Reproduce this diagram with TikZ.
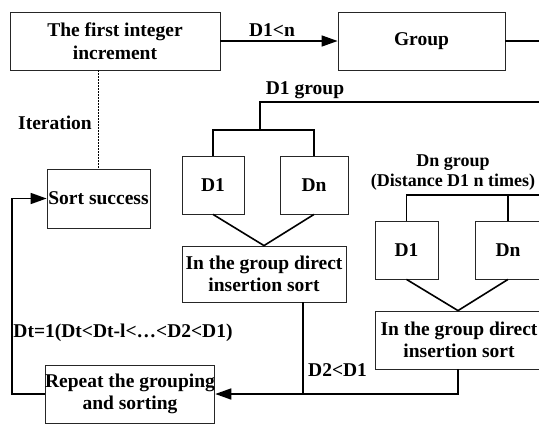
\documentclass[tikz,border=0pt]{standalone}
\usepackage{fontspec}
\setmainfont{Liberation Serif}
\usetikzlibrary{arrows.meta}
\begin{document}
\begin{tikzpicture}[x=1pt,y=-1pt,
  every node/.style={font=\fontsize{19.5}{22.5}\selectfont\bfseries},
  box/.style={draw=black!85,line width=0.8pt,rectangle,inner sep=0pt,align=center},
  conn/.style={draw=black,line width=1.6pt},
  arr/.style={conn,-{Triangle[length=16pt,width=11pt]}},
  lbl/.style={inner sep=0pt,align=center}]
\useasboundingbox (0,0) rectangle (539,424);
\clip (0,0) rectangle (539,424);
% boxes
\node[box,minimum width=210,minimum height=58] (first) at (115,41) {The first integer\\increment};
\node[box,minimum width=167,minimum height=58] (group) at (421.5,41) {Group};
\node[box,minimum width=103,minimum height=59] (ss) at (98.5,198.5) {Sort success};
\node[box,minimum width=62,minimum height=58] (md1) at (213,185) {D1};
\node[box,minimum width=68,minimum height=58] (mdn) at (314,185) {Dn};
\node[box,minimum width=164,minimum height=56] (mins) at (264,274) {In the group direct\\insertion sort};
\node[box,minimum width=63,minimum height=58] (rd1) at (406.5,250) {D1};
\node[box,minimum width=66,minimum height=58] (rdn) at (508,250) {Dn};
\node[box,minimum width=168,minimum height=58] (rins) at (459,340) {In the group direct\\insertion sort};
\node[box,minimum width=166,minimum height=58] (rep) at (130,394) {Repeat the grouping\\and sorting};
% labels
\node[lbl] (l1) at (272,30) {D1<n};
\node[lbl] (l2) at (55,123) {Iteration};
\node[lbl] (l3) at (305,90) {D1 group};
\node[lbl,font=\fontsize{18}{20}\selectfont\bfseries] (l4) at (453,172.5) {Dn group\\(Distance D1 n times)};
\node[lbl] (l5) at (123,333) {Dt=1(Dt<Dt-l<…<D2<D1)};
\node[lbl,anchor=west] (l6) at (308,370) {D2<D1};
% coordinates
\coordinate (gE) at (545,41);
\coordinate (d1gR) at (545,102);
\coordinate (d1gC) at (260,102);
\coordinate (d1gB) at (260,130);
\coordinate (dngR) at (545,195);
\coordinate (midj) at (303,394);
\coordinate (lft) at (12,394);
\coordinate (lftT) at (12,198.5);
% connectors
\draw[arr] (first.east) -- (group.west);
\draw[conn] (group.east) -- (gE);
\draw[conn] (d1gR) -- (d1gC) -- (d1gB);
\draw[conn] (md1.north) |- (d1gB) -| (mdn.north);
\draw[conn] (md1.south) -- (mins.north) -- (mdn.south);
\draw[conn] (dngR) -| (rd1.north);
\draw[conn] (dngR) -| (rdn.north);
\draw[conn] (rd1.south) -- ([xshift=-1pt]rins.north) -- (rdn.south);
\draw[arr] ([xshift=-1pt]rins.south) |- (rep.east);
\draw[conn] (mins.south -| midj) -- (midj);
\draw[arr] (rep.west) -- (lft) -- (lftT) -- (ss.west);
\draw[line width=1.5pt,dash pattern=on 1.5pt off 1.5pt] (first.south -| ss.north) -- (ss.north);
\end{tikzpicture}
\end{document}
